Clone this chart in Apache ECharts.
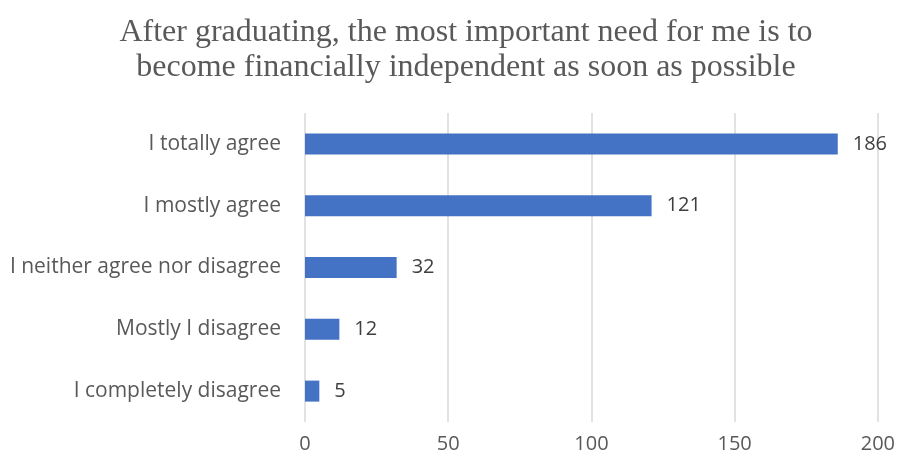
<!DOCTYPE html>
<html>
<head>
<meta charset="utf-8">
<script src="https://cdn.jsdelivr.net/npm/echarts@6/dist/echarts.min.js"></script>
<style>
  html, body { margin: 0; padding: 0; background: #ffffff; }
  #chart { width: 898px; height: 463px; }
</style>
</head>
<body>
<div id="chart"></div>
<script>
// Survey answers, listed bottom-to-top as the category axis draws them
const categories = [
  'I completely disagree',
  'Mostly I disagree',
  'I neither agree nor disagree',
  'I mostly agree',
  'I totally agree'
];
const counts = [5, 12, 32, 121, 186];
const axisTicks = [0, 50, 100, 150, 200];

const sansFont = '"Open Sans", Lato, sans-serif';

const chart = echarts.init(document.getElementById('chart'));
chart.setOption({
  backgroundColor: '#ffffff',
  animation: false,
  title: {
    text: 'After graduating, the most important need for me is to\nbecome financially independent as soon as possible',
    left: 461,
    textAlign: 'center',
    top: 10,
    textStyle: {
      fontFamily: '"Liberation Serif", "DejaVu Serif", serif',
      fontSize: 32,
      fontWeight: 'normal',
      color: '#595959',
      lineHeight: 35
    }
  },
  grid: { left: 305, right: 19, top: 113, bottom: 41, containLabel: false },
  xAxis: {
    type: 'value',
    min: axisTicks[0],
    max: axisTicks[axisTicks.length - 1],
    interval: axisTicks[1] - axisTicks[0],
    axisLine: { show: false },
    axisTick: { show: false },
    axisLabel: {
      margin: 12,
      fontFamily: sansFont,
      fontSize: 20,
      color: '#595959'
    },
    splitLine: { lineStyle: { color: '#d9d9d9', width: 1.5 } }
  },
  yAxis: {
    type: 'category',
    data: categories,
    axisLine: { show: false },
    axisTick: { show: false },
    axisLabel: {
      margin: 24,
      fontFamily: sansFont,
      fontSize: 21,
      color: '#595959'
    }
  },
  series: [{
    type: 'bar',
    data: counts,
    barWidth: 21,
    itemStyle: { color: '#4472C4' },
    label: {
      show: true,
      position: 'right',
      distance: 15,
      fontFamily: sansFont,
      fontSize: 20,
      color: '#404040'
    }
  }]
});
</script>
</body>
</html>
